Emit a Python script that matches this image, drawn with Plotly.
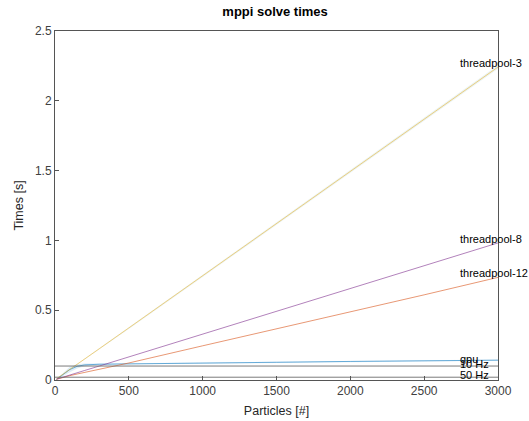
import plotly.graph_objects as go

# Particle counts used for each benchmark run
particles = [10, 50, 100, 150, 200, 300, 500, 1000, 1500, 2000, 2500, 3000]

# Mean solve times [s]
gpu = [0.004, 0.035, 0.075, 0.098, 0.108, 0.113, 0.116, 0.121, 0.127, 0.133, 0.138, 0.142]
gpu_std = [0.002, 0.012, 0.02, 0.015, 0.01, 0.006, 0.004, 0.004, 0.004, 0.004, 0.004, 0.004]
threadpool_12 = [0.005, 0.018, 0.031, 0.043, 0.054, 0.077, 0.122, 0.245, 0.366, 0.488, 0.610, 0.735]
threadpool_3 = [0.009, 0.038, 0.075, 0.112, 0.149, 0.224, 0.373, 0.747, 1.120, 1.493, 1.867, 2.242]
threadpool_3_std = [0.002, 0.003, 0.004, 0.004, 0.005, 0.006, 0.007, 0.009, 0.010, 0.011, 0.012, 0.013]
threadpool_8 = [0.006, 0.020, 0.036, 0.052, 0.068, 0.100, 0.165, 0.328, 0.492, 0.655, 0.818, 0.982]

# Real-time budgets
rate_names = ["10 Hz", "50 Hz"]
rate_times = [0.1, 0.02]

series = [
    ("gpu", gpu, "rgba(0,114,189,0.55)", 1),
    ("threadpool-12", threadpool_12, "rgba(217,83,25,0.6)", 4),
    ("threadpool-3", threadpool_3, "rgba(237,177,32,0.55)", 4),
    ("threadpool-8", threadpool_8, "rgba(126,47,142,0.6)", 4),
]

fig = go.Figure()

# Shaded spread bands
for mean, std, fill in [(gpu, gpu_std, "rgba(0,114,189,0.13)"),
                        (threadpool_3, threadpool_3_std, "rgba(160,200,200,0.22)")]:
    upper = [m + s for m, s in zip(mean, std)]
    lower = [m - s for m, s in zip(mean, std)]
    fig.add_trace(go.Scatter(x=particles + particles[::-1], y=upper + lower[::-1],
                             fill="toself", fillcolor=fill, line=dict(width=0),
                             mode="lines", hoverinfo="skip", showlegend=False))

for name, vals, color, _ in series:
    fig.add_trace(go.Scatter(x=particles, y=vals, mode="lines", name=name,
                             line=dict(color=color, width=1), showlegend=False))

for name, t in zip(rate_names, rate_times):
    fig.add_trace(go.Scatter(x=[0, particles[-1]], y=[t, t], mode="lines",
                             line=dict(color="rgba(100,100,100,0.85)", width=1),
                             showlegend=False))

annotations = []
label_x = 2730
for name, vals, _, shift in series:
    annotations.append(dict(x=label_x, y=vals[-1], text=name, xref="x", yref="y",
                            xanchor="left", yanchor="middle", showarrow=False, yshift=shift,
                            font=dict(size=11, color="black")))
for name, t in zip(rate_names, rate_times):
    annotations.append(dict(x=label_x, y=t, text=name, xref="x", yref="y",
                            xanchor="left", yanchor="middle", showarrow=False, yshift=2,
                            font=dict(size=11, color="black")))

axis_common = dict(showline=True, mirror=True, linecolor="#555555", linewidth=1,
                   ticks="inside", ticklen=4, tickcolor="#555555", showgrid=False,
                   zeroline=False, automargin=False,
                   tickfont=dict(size=12, color="#404040"))

fig.update_layout(
    width=529, height=421,
    margin=dict(l=55, r=31, t=31, b=41),
    paper_bgcolor="white", plot_bgcolor="white",
    font=dict(family="Liberation Sans, Arial, sans-serif"),
    title=dict(text="<b>mppi solve times</b>", x=0.52, xanchor="center", y=0.972,
               yanchor="middle", font=dict(size=13, color="black")),
    xaxis=dict(range=[0, 3000], tickvals=[0, 500, 1000, 1500, 2000, 2500, 3000],
               title=dict(text="Particles [#]", standoff=8,
                          font=dict(size=12.5, color="#262626")), **axis_common),
    yaxis=dict(range=[0, 2.5], tickvals=[0, 0.5, 1, 1.5, 2, 2.5],
               ticktext=["0", "0.5", "1", "1.5", "2", "2.5"],
               title=dict(text="Times [s]", standoff=8,
                          font=dict(size=12.5, color="#262626")), **axis_common),
    annotations=annotations,
)

fig.write_html("out.html")
